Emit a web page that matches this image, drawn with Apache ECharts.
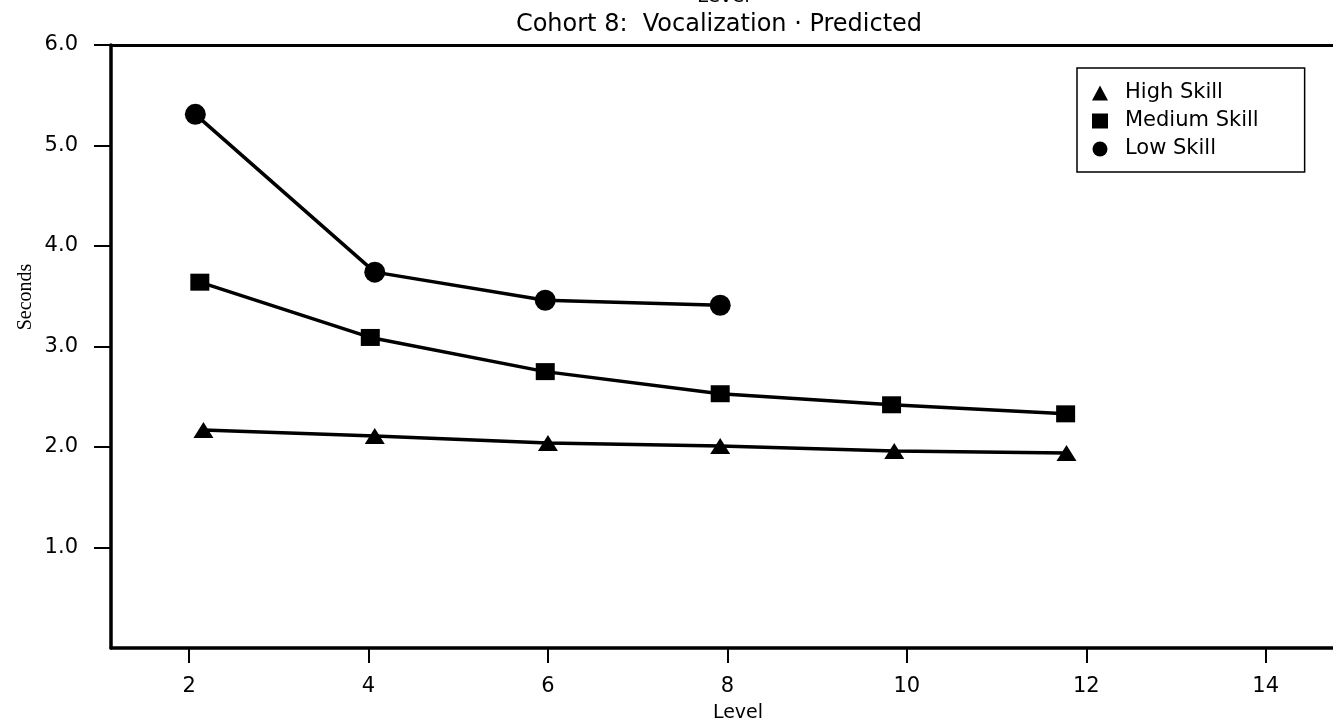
<!DOCTYPE html>
<html>
<head>
<meta charset="utf-8">
<script src="https://cdn.jsdelivr.net/npm/echarts@6/dist/echarts.min.js"></script>
<style>
html,body{margin:0;padding:0;background:#fff;}
#chart{width:1333px;height:723px;}
</style>
</head>
<body>
<div id="chart"></div>
<script>
// ---- data ----
const seriesNames = ['High Skill', 'Medium Skill', 'Low Skill'];
const highLevels = [2.16, 4.07, 6.0, 7.92, 9.86, 11.78];
const highSeconds = [2.17, 2.11, 2.04, 2.01, 1.96, 1.94];
const mediumLevels = [2.12, 4.02, 5.97, 7.92, 9.83, 11.77];
const mediumSeconds = [3.64, 3.09, 2.75, 2.53, 2.42, 2.33];
const lowLevels = [2.07, 4.07, 5.97, 7.92];
const lowSeconds = [5.31, 3.74, 3.46, 3.41];
const xTickValues = [2, 4, 6, 8, 10, 12, 14];
const yTickValues = [1, 2, 3, 4, 5, 6];
const titleText = 'Cohort 8:  Vocalization \u00b7 Predicted';
const topCutText = 'Level';
const xName = 'Level';
const yName = 'Seconds';

const pairs = (xs, ys) => xs.map((x, i) => [x, ys[i]]);
const FONT = 'DejaVu Sans';

const chart = echarts.init(document.getElementById('chart'), null, {renderer: 'canvas'});
const lineBase = {
  type: 'line',
  color: '#000',
  lineStyle: {color: '#000', width: 3.5},
  itemStyle: {color: '#000'},
  showSymbol: true,
  animation: false,
  z: 3
};
chart.setOption({
  backgroundColor: '#fff',
  animation: false,
  textStyle: {fontFamily: FONT, color: '#000'},
  title: {
    text: titleText,
    left: 714,
    top: 8,
    textAlign: 'center',
    textStyle: {fontFamily: FONT, fontSize: 24, fontWeight: 'normal', color: '#000'}
  },
  graphic: [
    {type: 'text', left: 697, top: -13, style: {text: topCutText, fontSize: 20, fontFamily: FONT, fill: '#000'}},
    {type: 'text', x: 26, y: 297, rotation: Math.PI / 2, style: {text: yName, fontSize: 20, fontFamily: 'Liberation Serif', fill: '#000', align: 'center', verticalAlign: 'middle'}}
  ],
  legend: {
    orient: 'vertical',
    left: 1077,
    top: 68,
    padding: [14, 46, 12, 15],
    itemWidth: 16,
    itemHeight: 15,
    itemGap: 6,
    borderColor: '#000',
    borderWidth: 1.5,
    borderRadius: 0,
    textStyle: {fontFamily: FONT, fontSize: 21, color: '#000', lineHeight: 22, padding: [0, 0, 0, 12]},
    data: [
      {name: seriesNames[0], icon: 'triangle'},
      {name: seriesNames[1], icon: 'rect'},
      {name: seriesNames[2], icon: 'circle'}
    ]
  },
  grid: {left: 111, right: 0, top: 45, bottom: 75, containLabel: false, outerBoundsMode: 'none'},
  xAxis: [
    {
      type: 'value', min: 1.13, max: 14.75, position: 'bottom',
      name: xName, nameLocation: 'middle', nameGap: 56,
      nameTextStyle: {fontFamily: FONT, fontSize: 19, color: '#000', padding: [0, 0, 0, 32]},
      axisLine: {show: true, lineStyle: {color: '#000', width: 3.5}},
      axisTick: {show: true, length: 15, lineStyle: {color: '#000', width: 2}, customValues: xTickValues},
      axisLabel: {show: true, margin: 28, fontFamily: FONT, fontSize: 21, color: '#000', customValues: xTickValues},
      splitLine: {show: false}
    },
    {
      type: 'value', min: 1.13, max: 14.75, position: 'top',
      axisLine: {show: true, onZero: false, lineStyle: {color: '#000', width: 3}},
      axisTick: {show: false}, axisLabel: {show: false}, splitLine: {show: false}
    }
  ],
  yAxis: {
    type: 'value', min: 0, max: 6,
    axisLine: {show: true, lineStyle: {color: '#000', width: 3.5}},
    axisTick: {show: true, length: 17, lineStyle: {color: '#000', width: 2}, customValues: yTickValues},
    axisLabel: {show: true, margin: 33, fontFamily: FONT, fontSize: 21, color: '#000',
      customValues: yTickValues, formatter: v => v.toFixed(1)},
    splitLine: {show: false}
  },
  series: [
    Object.assign({}, lineBase, {name: seriesNames[0], symbol: 'triangle', symbolSize: [20, 16], data: pairs(highLevels, highSeconds)}),
    Object.assign({}, lineBase, {name: seriesNames[1], symbol: 'rect', symbolSize: [19, 17], data: pairs(mediumLevels, mediumSeconds)}),
    Object.assign({}, lineBase, {name: seriesNames[2], symbol: 'circle', symbolSize: 21, data: pairs(lowLevels, lowSeconds)})
  ]
});
</script>
</body>
</html>
